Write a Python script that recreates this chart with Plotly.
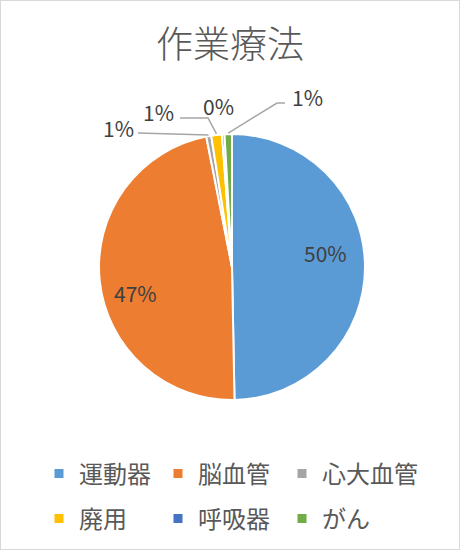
import math
import plotly.graph_objects as go

# 作業療法 の疾患別内訳
labels = ['運動器', '脳血管', '心大血管', '廃用', '呼吸器', 'がん']
values = [49.7, 47.2, 0.6, 1.3, 0.3, 0.9]
colors = ['#5B9BD5', '#ED7D31', '#A5A5A5', '#FFC000', '#4472C4', '#70AD47']

W, H = 460, 550
font_jp = 'Noto Sans CJK JP'
gray_txt = '#595959'
lbl_txt = '#404040'

# pie placement in px
cx, cy, R = 232, 267, 133

# label centre (px) and leader elbow/end points, Excel style manual placement
label_pos = [(325, 253), (135, 293), (118, 128), (158, 112), (218, 106), (307, 97)]
leader = [None, None, [(138, 133)], [(208, 118), (180, 118)], None, [(277, 103), (285, 103)]]

# legend grid: left edge of each column (px), centre of each row (px)
leg_cols = [39, 158, 282]
leg_rows = [474, 519]


def px(x, y):
    return x / W, 1 - y / H


fig = go.Figure()
fig.add_trace(go.Pie(
    labels=labels,
    values=values,
    sort=False,
    direction='clockwise',
    rotation=0,
    marker=dict(colors=colors, line=dict(color='white', width=2)),
    textinfo='none',
    showlegend=False,
    domain=dict(x=[(cx - R) / W, (cx + R) / W], y=[1 - (cy + R) / H, 1 - (cy - R) / H]),
    hoverinfo='label+percent',
))

# one legend per entry so the grid spacing matches the excel legend
legends = {}
for i, (name, col) in enumerate(zip(labels, colors)):
    key = 'legend' if i == 0 else f'legend{i + 1}'
    fig.add_trace(go.Scatter(
        x=[None], y=[None], mode='markers', name=name,
        marker=dict(symbol='square', size=9, color=col),
        legend=key, hoverinfo='skip',
    ))
    lx, ly = px(leg_cols[i % 3], leg_rows[i // 3])
    legends[key] = dict(x=lx, y=ly, xanchor='left', yanchor='middle',
                        font=dict(family=font_jp, size=24, color=gray_txt))

total = sum(values)
annotations = []
shapes = []
cum = 0
for i, v in enumerate(values):
    mid = (cum + v / 2) / total * 2 * math.pi
    cum += v
    lx, ly = px(*label_pos[i])
    annotations.append(dict(
        x=lx, y=ly, xref='paper', yref='paper', showarrow=False,
        xanchor='center', yanchor='middle',
        text=f'{round(v / total * 100)}%',
        font=dict(family=font_jp, size=21, color=lbl_txt),
    ))
    if leader[i]:
        ex, ey = cx + (R + 1) * math.sin(mid), cy - (R + 1) * math.cos(mid)
        pts = [px(ex, ey)] + [px(*p) for p in leader[i]]
        path = 'M' + ' L'.join(f'{a:.4f},{b:.4f}' for a, b in pts)
        shapes.append(dict(type='path', xref='paper', yref='paper', path=path,
                           line=dict(color='#A6A6A6', width=1.5)))

shapes.append(dict(type='rect', xref='paper', yref='paper', x0=0, y0=0, x1=1, y1=1,
                   line=dict(color='#D9D9D9', width=2)))

fig.update_layout(
    width=W, height=H,
    margin=dict(l=0, r=0, t=0, b=0),
    paper_bgcolor='white',
    plot_bgcolor='rgba(0,0,0,0)',
    xaxis=dict(visible=False),
    yaxis=dict(visible=False),
    title=dict(text='作業療法', x=0.5, xanchor='center', y=1 - 45 / H, yanchor='middle',
               font=dict(family=font_jp, size=37, color=gray_txt, weight=300)),
    annotations=annotations,
    shapes=shapes,
    **legends,
)

fig.write_html("out.html", config={'displayModeBar': False},
               post_script="document.body.style.margin='0';")
